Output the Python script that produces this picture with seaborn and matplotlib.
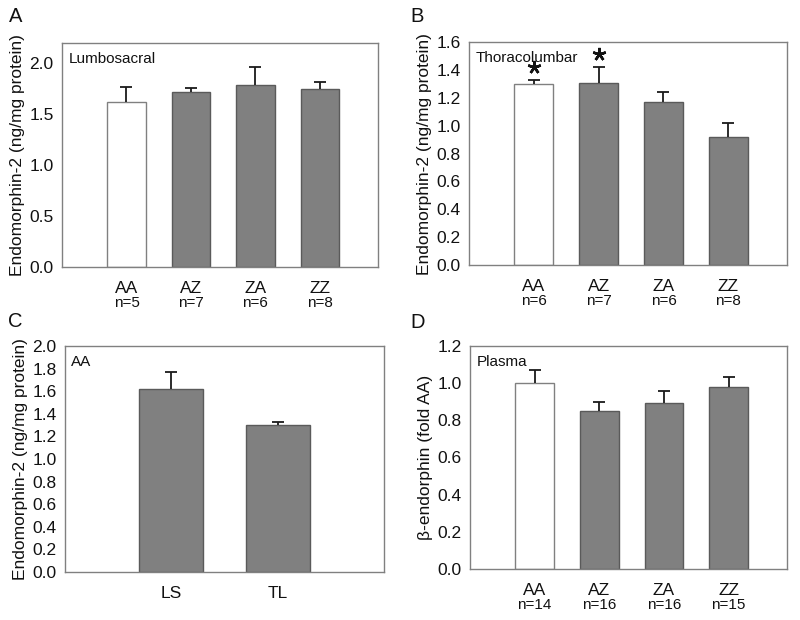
import matplotlib
matplotlib.use("Agg")
import matplotlib.pyplot as plt
import matplotlib.transforms as mtransforms
import seaborn as sns
import pandas as pd

sns.set_style("white")
plt.rcParams['font.family'] = ['Liberation Sans', 'DejaVu Sans']

# ---- data ----
groups = ["AA", "AZ", "ZA", "ZZ"]

a_mean = [1.62, 1.72, 1.79, 1.75]
a_err = [0.15, 0.04, 0.18, 0.07]
a_n = ["n=5", "n=7", "n=6", "n=8"]

b_mean = [1.30, 1.31, 1.17, 0.92]
b_err = [0.03, 0.11, 0.07, 0.10]
b_n = ["n=6", "n=7", "n=6", "n=8"]
b_star = [True, True, False, False]

c_groups = ["LS", "TL"]
c_mean = [1.62, 1.30]
c_err = [0.15, 0.03]

d_mean = [1.00, 0.85, 0.895, 0.98]
d_err = [0.07, 0.05, 0.065, 0.055]
d_n = ["n=14", "n=16", "n=16", "n=15"]

SPINE = "#808080"
FILL = "#808080"
EDGE = "#5a5a5a"
TXT = "#111111"

fig = plt.figure(figsize=(8, 6.2), dpi=100)


def panel(rect, cats, means, errs, colors, edges, ylim, yticks, ylabel,
          inner, letter, letter_xy, nlabels=None, xlim=(-1.0, 3.9), stars=None):
    ax = fig.add_axes(rect)
    df = pd.DataFrame({"g": cats, "v": means})
    sns.barplot(data=df, x="g", y="v", hue="g", palette=colors, legend=False,
                width=0.6, ax=ax, linewidth=1.0, saturation=1)
    for p, ec in zip(ax.patches, edges):
        p.set_edgecolor(ec)
    xs = list(range(len(cats)))
    tops = [m + e for m, e in zip(means, errs)]
    ax.vlines(xs, means, tops, colors="#1a1a1a", linewidth=1.3, zorder=3)
    ax.plot(xs, tops, linestyle="none", marker="_", ms=9, mew=1.3,
            color="#1a1a1a", zorder=3)
    ax.set_xlim(*xlim)
    ax.set_ylim(*ylim)
    ax.set_yticks(yticks)
    ax.set_yticklabels([f"{t:.1f}" for t in yticks], fontsize=12.5)
    ax.set_xticks(xs)
    ax.set_xticklabels(cats, fontsize=12.5)
    ax.set_xlabel("")
    ax.set_ylabel(ylabel, fontsize=12.5, labelpad=3, color=TXT)
    for s in ax.spines.values():
        s.set_color(SPINE)
        s.set_linewidth(1.0)
        s.set_visible(True)
    ax.tick_params(axis="y", direction="out", length=4, width=1, color=SPINE,
                   pad=2, labelcolor=TXT)
    ax.tick_params(axis="x", direction="out", length=3, width=1, color=SPINE,
                   pad=7, labelcolor=TXT)
    ax.text(0.02, 0.96, inner, transform=ax.transAxes, fontsize=11,
            ha="left", va="top", color=TXT)
    fig.text(letter_xy[0] / 800, 1 - letter_xy[1] / 620, letter, fontsize=14.5,
             ha="left", va="baseline", color=TXT)
    if nlabels is not None:
        trans = mtransforms.blended_transform_factory(ax.transData, ax.transAxes)
        for x, t in zip(xs, nlabels):
            ax.text(x, -0.128, t, transform=trans, fontsize=11, ha="center",
                    va="top", color=TXT)
    if stars is not None:
        span = ylim[1] - ylim[0]
        for x, t, s in zip(xs, tops, stars):
            if s:
                ax.plot([x], [t + 0.058 * span], linestyle="none",
                        marker=(5, 2, 0), ms=9.5, mew=1.8, color=TXT)
    return ax


cols4 = ["white", FILL, FILL, FILL]
edges4 = [SPINE, EDGE, EDGE, EDGE]
ylab = "Endomorphin-2 (ng/mg protein)"

panel([0.0775, 0.5694, 0.395, 0.361], groups, a_mean, a_err, cols4, edges4,
      (0, 2.2), [0.0, 0.5, 1.0, 1.5, 2.0], ylab, "Lumbosacral", "A", (9, 22), a_n)
panel([0.586, 0.5726, 0.3975, 0.3594], groups, b_mean, b_err, cols4, edges4,
      (0, 1.6), [0.0, 0.2, 0.4, 0.6, 0.8, 1.0, 1.2, 1.4, 1.6], ylab,
      "Thoracolumbar", "B", (410, 22), b_n, stars=b_star)
panel([0.081, 0.0774, 0.399, 0.3645], c_groups, c_mean, c_err, [FILL, FILL],
      [EDGE, EDGE], (0, 2.0), [0.0, 0.2, 0.4, 0.6, 0.8, 1.0, 1.2, 1.4, 1.6, 1.8, 2.0],
      ylab, "AA", "C", (8, 327), None, xlim=(-1.0, 2.0))
panel([0.5875, 0.0823, 0.396, 0.3597], groups, d_mean, d_err, cols4, edges4,
      (0, 1.2), [0.0, 0.2, 0.4, 0.6, 0.8, 1.0, 1.2], "β-endorphin (fold AA)",
      "Plasma", "D", (410, 328), d_n)

fig.savefig("out.png", dpi=100)
